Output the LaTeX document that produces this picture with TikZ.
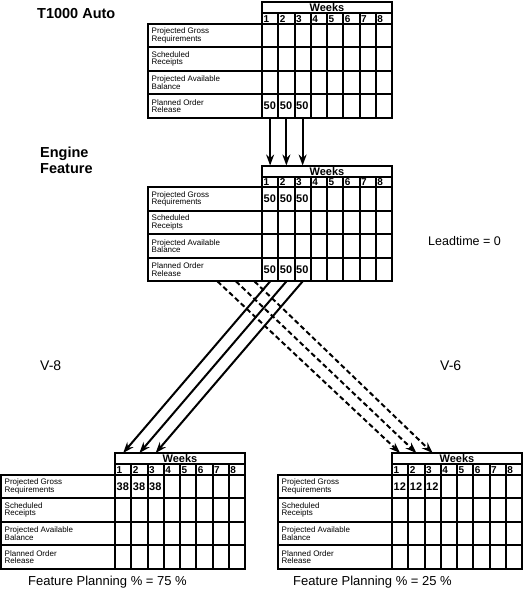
\documentclass[tikz,border=0pt]{standalone}
\usepackage{fontspec}
\setmainfont{Liberation Sans}
\usetikzlibrary{arrows.meta}

\begin{document}
\begin{tikzpicture}[x=1pt, y=-1pt, >={Stealth[length=11pt,width=8pt]},
    every node/.style={inner sep=0pt},
    gridline/.style={line width=2pt},
    title/.style={font=\fontsize{14.5}{16}\selectfont\bfseries, align=left, anchor=north west},
    note/.style={font=\fontsize{13}{15}\selectfont, anchor=north west},
    rowlabel/.style={font=\fontsize{8}{7.5}\selectfont, align=left, anchor=west},
    weekhead/.style={font=\fontsize{11}{11}\selectfont\bfseries},
    weeknum/.style={font=\fontsize{10}{10}\selectfont\bfseries, anchor=north west},
    cellval/.style={font=\fontsize{11}{11}\selectfont\bfseries, anchor=west},
    feed/.style={->, line width=2pt},
    share/.style={->, line width=2pt, dash pattern=on 5pt off 3pt}]

    \useasboundingbox (0,0) rectangle (524,590);

    % --- 1. table sizes ---
    % wLabel: label column, wCol: one week, yHead/yNum: header rows, hRow: one record row
    \def\wLabel{114}
    \def\wCol{16.25}
    \def\yHead{11}
    \def\yNum{21.5}
    \def\hRow{23.6}

    % --- 2. one MRP record: name, top-left corner, row/value pairs ---
    \def\mrptable#1#2#3{%
      \begin{scope}[shift={#2}]
        % header "Weeks" and week numbers
        \draw[gridline] (\wLabel,0) rectangle (\wLabel+8*\wCol,\yHead);
        \node[weekhead] (#1-head) at (\wLabel+4*\wCol,\yHead/2+0.5) {Weeks};
        \draw[gridline] (\wLabel,\yHead) rectangle (\wLabel+8*\wCol,\yNum);
        \foreach \c in {1,...,8}
          \node[weeknum] (#1-wk\c) at (\wLabel+\c*\wCol-\wCol+1.5,\yHead+2) {\c};
        % rows and columns
        \draw[gridline] (0,\yNum) rectangle (\wLabel+8*\wCol,\yNum+4*\hRow);
        \foreach \r in {1,2,3}
          \draw[gridline] (0,\yNum+\r*\hRow) -- (\wLabel+8*\wCol,\yNum+\r*\hRow);
        \foreach \c in {0,...,7}
          \draw[gridline] (\wLabel+\c*\wCol,\yHead) -- (\wLabel+\c*\wCol,\yNum+4*\hRow);
        % row labels
        \foreach \r/\txt in {1/{Projected Gross\\Requirements},
                             2/{Scheduled\\Receipts},
                             3/{Projected Available\\Balance},
                             4/{Planned Order\\Release}}
          \node[rowlabel] (#1-lbl\r) at (3.5,\yNum+\r*\hRow-0.5*\hRow) {\txt};
        % quantities in weeks 1-3
        \foreach \r/\v in {#3}
          \foreach \c in {1,2,3}
            \node[cellval] (#1-v\r\c) at (\wLabel+\c*\wCol-\wCol+1.5,\yNum+\r*\hRow-0.5*\hRow) {\v};
        % connection points
        \foreach \c in {1,2,3} {
          \coordinate (#1-top-\c) at (\wLabel+\c*\wCol-0.5*\wCol,0);
          \coordinate (#1-bot-\c) at (\wLabel+\c*\wCol-0.5*\wCol,\yNum+4*\hRow);
          \coordinate (#1-out-\c) at (51+\c*18.5,\yNum+4*\hRow);
        }
      \end{scope}}

    % --- 3. the four records ---
    \mrptable{tAuto}{(148,2)}{4/50}
    \mrptable{tEngine}{(148,165.5)}{1/50,4/50}
    \mrptable{tVeight}{(1,453)}{1/38}
    \mrptable{tVsix}{(278,453)}{1/12}

    % --- 4. titles and notes ---
    \node[title] (autoTitle) at (37,8) {T1000 Auto};
    \node[title] (engineTitle) at (40,147) {Engine\\Feature};
    \node[note, font=\fontsize{12.5}{14}\selectfont] (lead) at (428,236) {Leadtime = 0};
    \node[note, font=\fontsize{14}{16}\selectfont] (veightTitle) at (40,361) {V-8};
    \node[note, font=\fontsize{14}{16}\selectfont] (vsixTitle) at (440,361) {V-6};
    \node[note] (pctEight) at (28,576) {Feature Planning \% = 75 \%};
    \node[note] (pctSix) at (293,576) {Feature Planning \% = 25 \%};

    % --- 5. explosion arrows ---
    \foreach \c in {1,2,3} {
      \draw[feed] (tAuto-bot-\c) -- (tEngine-top-\c);
      \draw[feed] (tEngine-bot-\c) -- (tVeight-top-\c);
      \draw[share] (tEngine-out-\c) -- (tVsix-top-\c);
    }

\end{tikzpicture}
\end{document}
